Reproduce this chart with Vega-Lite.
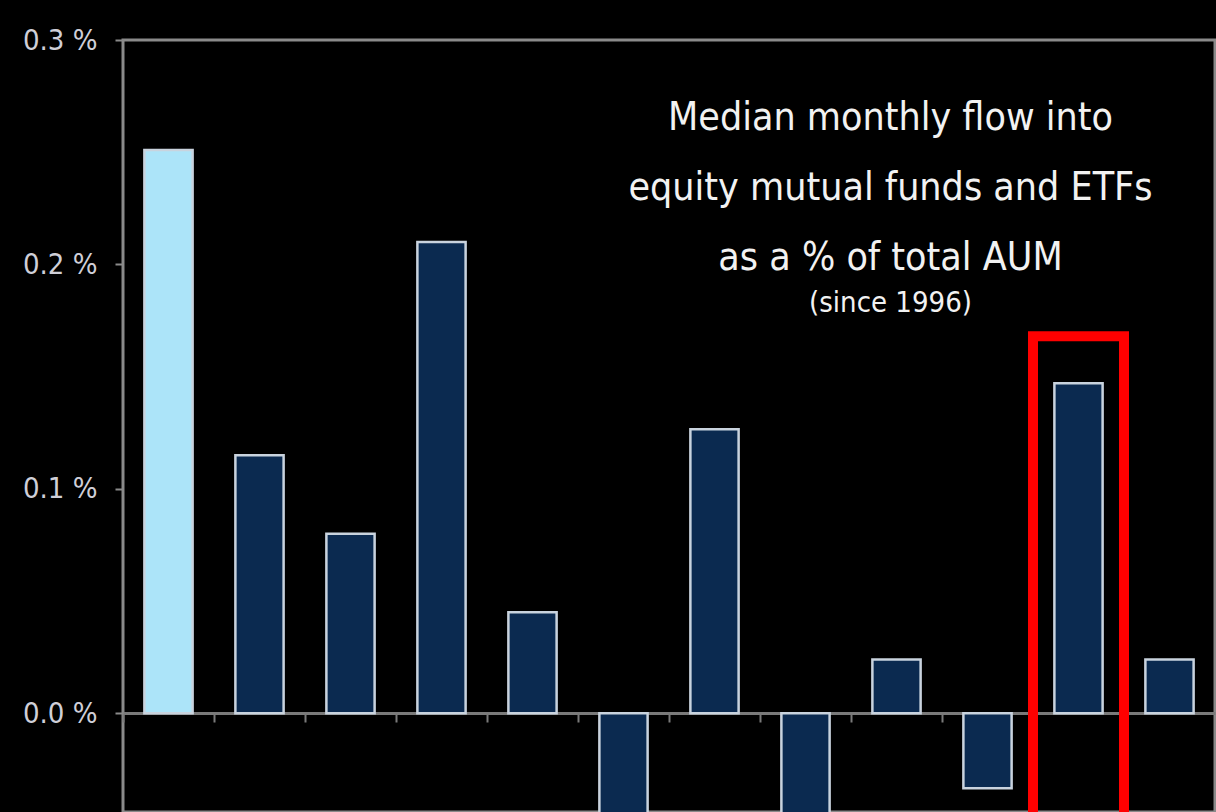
{
  "$schema": "https://vega.github.io/schema/vega-lite/v6.json",
  "width": 1092,
  "height": 772,
  "autosize": {"type": "none"},
  "padding": {"left": 123, "top": 40, "right": 1, "bottom": 0},
  "background": "#000000",
  "config": {
    "view": {"stroke": "#8a8a8a", "strokeWidth": 3},
    "font": "DejaVu Sans Condensed, Roboto, sans-serif"
  },
  "datasets": {
    "bars": [
      {"month": "Jan", "flow": 0.251},
      {"month": "Feb", "flow": 0.115},
      {"month": "Mar", "flow": 0.080},
      {"month": "Apr", "flow": 0.210},
      {"month": "May", "flow": 0.045},
      {"month": "Jun", "flow": -0.060},
      {"month": "Jul", "flow": 0.1266},
      {"month": "Aug", "flow": -0.055},
      {"month": "Sep", "flow": 0.024},
      {"month": "Oct", "flow": -0.0334},
      {"month": "Nov", "flow": 0.147},
      {"month": "Dec", "flow": 0.024}
    ],
    "note": [
      {"month": "Sep", "v": 0.2654, "line": "Median monthly flow into"},
      {"month": "Sep", "v": 0.2342, "line": "equity mutual funds and ETFs"},
      {"month": "Sep", "v": 0.2030, "line": "as a % of total AUM"}
    ],
    "note2": [
      {"month": "Sep", "v": 0.1829, "line": "(since 1996)"}
    ],
    "box": [
      {"month": "Nov", "top": 0.168, "bottom": -0.06}
    ]
  },
  "encoding": {
    "x": {
      "field": "month",
      "type": "nominal",
      "sort": null,
      "scale": {
        "domain": ["Jan", "Feb", "Mar", "Apr", "May", "Jun", "Jul", "Aug", "Sep", "Oct", "Nov", "Dec"],
        "paddingInner": 0,
        "paddingOuter": 0
      },
      "axis": {
        "title": null,
        "labels": false,
        "bandPosition": 0,
        "offset": -99,
        "domainColor": "#7a7a7a",
        "domainWidth": 3,
        "tickColor": "#7a7a7a",
        "tickWidth": 2,
        "tickSize": 9
      }
    }
  },
  "layer": [
    {
      "data": {"name": "bars"},
      "mark": {"type": "bar", "width": {"band": 0.53}, "stroke": "#c9d3de", "strokeWidth": 2.5, "clip": true},
      "encoding": {
        "y": {
          "field": "flow",
          "type": "quantitative",
          "scale": {"domain": [-0.044, 0.3], "nice": false, "zero": false},
          "axis": {
            "title": null,
            "values": [0, 0.1, 0.2, 0.3],
            "labelExpr": "format(datum.value, '.1f') + ' %'",
            "grid": false,
            "domain": false,
            "tickColor": "#8a8a8a",
            "tickWidth": 2,
            "tickSize": 8,
            "labelColor": "#cfcfd8",
            "labelFontSize": 29,
            "labelFont": "DejaVu Sans Condensed, Roboto, sans-serif",
            "labelPadding": 18
          }
        },
        "color": {
          "condition": {"test": "datum.month === 'Jan'", "value": "#ace4f9"},
          "value": "#0b2a50"
        }
      }
    },
    {
      "data": {"name": "box"},
      "mark": {"type": "bar", "fill": null, "fillOpacity": 0, "stroke": "#ff0000", "strokeWidth": 10, "clip": true},
      "encoding": {
        "y": {"field": "top", "type": "quantitative"},
        "y2": {"field": "bottom"}
      }
    },
    {
      "data": {"name": "note"},
      "mark": {"type": "text", "font": "DejaVu Sans Condensed, Roboto, sans-serif", "fontSize": 39, "color": "#f2f2f2", "baseline": "middle", "align": "center", "xOffset": -6},
      "encoding": {
        "y": {"field": "v", "type": "quantitative"},
        "text": {"field": "line"}
      }
    },
    {
      "data": {"name": "note2"},
      "mark": {"type": "text", "font": "DejaVu Sans Condensed, Roboto, sans-serif", "fontSize": 29, "color": "#f2f2f2", "baseline": "middle", "align": "center", "xOffset": -6},
      "encoding": {
        "y": {"field": "v", "type": "quantitative"},
        "text": {"field": "line"}
      }
    }
  ]
}
